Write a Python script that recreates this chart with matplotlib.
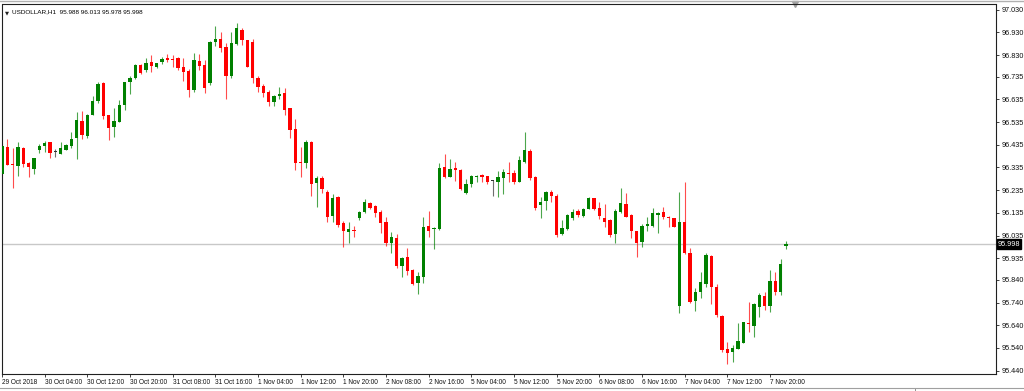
"""USDOLLAR H1 candlestick chart, MT4 look."""
import matplotlib
matplotlib.use("Agg")
import matplotlib.pyplot as plt
from matplotlib.lines import Line2D
from matplotlib.patches import Rectangle

symbol_title = "USDOLLAR,H1  95.988 96.013 95.978 95.998"
last_price = 95.998

opens = [
    96.305, 96.424, 96.350, 96.343, 96.421, 96.356, 96.327, 96.412, 96.428, 96.446,
    96.405, 96.396, 96.413, 96.428, 96.463, 96.540, 96.475, 96.566, 96.629, 96.709,
    96.564, 96.513, 96.537, 96.610, 96.711, 96.728, 96.786, 96.764, 96.800, 96.779,
    96.800, 96.817, 96.814, 96.816, 96.779, 96.761, 96.678, 96.804, 96.788, 96.708,
    96.886, 96.901, 96.866, 96.738, 96.880, 96.942, 96.896, 96.888, 96.731, 96.695,
    96.666, 96.625, 96.651, 96.662, 96.595, 96.503, 96.361, 96.356, 96.449, 96.265,
    96.287, 96.229, 96.121, 96.206, 96.089, 96.052, 96.058, 96.114, 96.140, 96.180,
    96.165, 96.137, 96.096, 96.004, 96.026, 95.903, 95.942, 95.884, 95.825, 95.854,
    96.077, 96.063, 96.063, 96.336, 96.295, 96.333, 96.324, 96.221, 96.261, 96.293,
    96.302, 96.296, 96.275, 96.273, 96.290, 96.312, 96.312, 96.273, 96.361, 96.408,
    96.295, 96.170, 96.189, 96.226, 96.209, 96.042, 96.063, 96.111, 96.143, 96.123,
    96.152, 96.199, 96.158, 96.114, 96.104, 96.042, 96.140, 96.174, 96.126, 96.055,
    96.005, 96.079, 96.077, 96.127, 96.138, 96.118, 96.111, 95.726, 96.096, 95.957,
    95.747, 95.788, 95.822, 95.945, 95.807, 95.682, 95.536, 95.521, 95.536, 95.564,
    95.652, 95.637, 95.722, 95.769, 95.726, 95.835, 95.788, 95.988,
]
highs = [
    96.441, 96.460, 96.419, 96.449, 96.424, 96.361, 96.377, 96.440, 96.452, 96.449,
    96.415, 96.446, 96.438, 96.490, 96.578, 96.584, 96.569, 96.650, 96.710, 96.712,
    96.568, 96.596, 96.631, 96.713, 96.739, 96.790, 96.790, 96.817, 96.829, 96.797,
    96.820, 96.836, 96.830, 96.822, 96.816, 96.767, 96.839, 96.836, 96.810, 96.892,
    96.958, 96.930, 96.883, 96.933, 96.971, 96.948, 96.898, 96.901, 96.736, 96.703,
    96.675, 96.652, 96.688, 96.684, 96.598, 96.547, 96.424, 96.456, 96.452, 96.298,
    96.298, 96.236, 96.218, 96.209, 96.099, 96.093, 96.079, 96.145, 96.195, 96.184,
    96.168, 96.148, 96.118, 96.052, 96.042, 95.942, 95.979, 95.886, 95.873, 96.115,
    96.143, 96.074, 96.356, 96.396, 96.372, 96.361, 96.327, 96.286, 96.302, 96.302,
    96.305, 96.299, 96.280, 96.320, 96.327, 96.361, 96.324, 96.386, 96.490, 96.415,
    96.297, 96.207, 96.231, 96.236, 96.218, 96.104, 96.128, 96.151, 96.152, 96.155,
    96.205, 96.202, 96.184, 96.174, 96.107, 96.151, 96.243, 96.221, 96.128, 96.057,
    96.086, 96.118, 96.155, 96.140, 96.162, 96.120, 96.113, 96.228, 96.270, 95.982,
    95.803, 95.876, 95.960, 95.950, 95.820, 95.685, 95.568, 95.553, 95.649, 95.656,
    95.744, 95.737, 95.784, 95.788, 95.884, 95.873, 95.932, 96.013,
]
lows = [
    96.300, 96.344, 96.246, 96.296, 96.339, 96.293, 96.305, 96.400, 96.402, 96.378,
    96.383, 96.393, 96.411, 96.419, 96.372, 96.459, 96.466, 96.564, 96.618, 96.550,
    96.458, 96.471, 96.534, 96.587, 96.657, 96.726, 96.748, 96.757, 96.757, 96.775,
    96.791, 96.801, 96.779, 96.764, 96.717, 96.644, 96.669, 96.764, 96.665, 96.698,
    96.871, 96.845, 96.637, 96.731, 96.874, 96.874, 96.776, 96.707, 96.667, 96.644,
    96.607, 96.606, 96.637, 96.566, 96.466, 96.324, 96.295, 96.331, 96.209, 96.162,
    96.221, 96.096, 96.096, 96.071, 95.983, 96.004, 96.030, 96.104, 96.136, 96.151,
    96.118, 96.048, 95.989, 95.957, 95.891, 95.854, 95.862, 95.817, 95.778, 95.825,
    96.027, 95.975, 96.060, 96.290, 96.292, 96.277, 96.236, 96.218, 96.250, 96.270,
    96.273, 96.262, 96.209, 96.206, 96.218, 96.273, 96.261, 96.270, 96.356, 96.280,
    96.148, 96.111, 96.148, 96.184, 96.027, 96.036, 96.060, 96.104, 96.118, 96.118,
    96.150, 96.148, 96.107, 96.074, 96.027, 96.004, 96.133, 96.115, 96.023, 95.939,
    95.986, 96.055, 96.071, 96.048, 96.108, 96.071, 96.071, 95.693, 95.954, 95.740,
    95.704, 95.759, 95.807, 95.734, 95.675, 95.521, 95.468, 95.480, 95.534, 95.561,
    95.609, 95.590, 95.678, 95.707, 95.697, 95.773, 95.773, 95.978,
]
closes = [
    96.431, 96.346, 96.346, 96.424, 96.350, 96.337, 96.375, 96.430, 96.443, 96.397,
    96.405, 96.419, 96.434, 96.462, 96.543, 96.477, 96.566, 96.628, 96.703, 96.562,
    96.507, 96.540, 96.610, 96.711, 96.731, 96.788, 96.753, 96.797, 96.783, 96.794,
    96.814, 96.808, 96.808, 96.772, 96.757, 96.678, 96.807, 96.783, 96.684, 96.886,
    96.901, 96.860, 96.736, 96.885, 96.949, 96.895, 96.778, 96.731, 96.688, 96.665,
    96.622, 96.651, 96.659, 96.588, 96.500, 96.356, 96.353, 96.449, 96.261, 96.290,
    96.240, 96.118, 96.199, 96.082, 96.057, 96.064, 96.054, 96.140, 96.184, 96.155,
    96.133, 96.092, 96.001, 96.030, 95.903, 95.935, 95.879, 95.822, 95.857, 96.074,
    96.057, 96.070, 96.334, 96.295, 96.327, 96.324, 96.239, 96.261, 96.298, 96.298,
    96.295, 96.270, 96.275, 96.295, 96.314, 96.306, 96.273, 96.368, 96.411, 96.287,
    96.155, 96.184, 96.226, 96.211, 96.038, 96.070, 96.126, 96.140, 96.126, 96.152,
    96.202, 96.152, 96.123, 96.096, 96.038, 96.143, 96.177, 96.118, 96.057, 96.004,
    96.079, 96.085, 96.133, 96.133, 96.115, 96.113, 96.074, 96.093, 95.957, 95.744,
    95.788, 95.829, 95.950, 95.807, 95.685, 95.531, 95.519, 95.542, 95.571, 95.653,
    95.644, 95.732, 95.773, 95.726, 95.835, 95.788, 95.910, 95.998,
]

time_labels = [
    "29 Oct 2018", "30 Oct 04:00", "30 Oct 12:00", "30 Oct 20:00", "31 Oct 08:00",
    "31 Oct 16:00", "1 Nov 04:00", "1 Nov 12:00", "1 Nov 20:00", "2 Nov 08:00",
    "2 Nov 16:00", "5 Nov 04:00", "5 Nov 12:00", "5 Nov 20:00", "6 Nov 08:00",
    "6 Nov 16:00", "7 Nov 04:00", "7 Nov 12:00", "7 Nov 20:00",
]
bars_per_label = 8

price_ticks = [
    97.030, 96.930, 96.830, 96.735, 96.635, 96.535, 96.435, 96.335, 96.235,
    96.135, 96.035, 95.935, 95.840, 95.740, 95.640, 95.540, 95.440,
]

UP = "#008000"
DOWN = "#ff0000"
FLAT = "#303030"
FONT = "Liberation Sans"

W, H = 1024, 391
fig = plt.figure(figsize=(W / 100, H / 100), dpi=100)
fig.patch.set_facecolor("white")

left_px, right_px, top_px, bottom_px = 1.5, 995.5, 4.5, 373.5
ax = fig.add_axes([left_px / W, 1 - bottom_px / H,
                   (right_px - left_px) / W, (bottom_px - top_px) / H])

positions = list(range(len(opens)))
colors = []
for o, c in zip(opens, closes):
    colors.append(UP if c > o else DOWN if c < o else FLAT)

# wicks first, bodies drawn on top
ax.vlines(positions, lows, highs, colors=colors, linewidth=0.8, alpha=0.7, zorder=2)
body_bottom = [min(o, c) for o, c in zip(opens, closes)]
body_height = [max(abs(c - o), 0.0035) for o, c in zip(opens, closes)]
ax.bar(positions, body_height, bottom=body_bottom, width=0.62, color=colors,
       linewidth=0, zorder=3)

# last price line
ax.axhline(last_price, color="#c8c8c8", linewidth=1.0, zorder=1)

px_per_bar = 5.333
ax.set_xlim((left_px - 2.0) / px_per_bar, (right_px - 2.0) / px_per_bar)
price_per_px = 0.004404
ax.set_ylim(last_price - (bottom_px - 244) * price_per_px,
            last_price + (244 - top_px) * price_per_px)

ax.set_xticks([i * bars_per_label for i in range(len(time_labels))])
ax.set_xticklabels(time_labels, ha="left", fontsize=4.7, family=FONT, color="#101010")
ax.tick_params(axis="x", length=2.5, width=0.6, pad=1.5, color="#202020")

ax.yaxis.tick_right()
ax.set_yticks(price_ticks)
ax.set_yticklabels([f"{p:.3f}" for p in price_ticks], fontsize=5.2, family=FONT,
                   color="#101010")
ax.tick_params(axis="y", length=2.5, width=0.6, pad=2, color="#202020")

for side in ("left", "right", "top", "bottom"):
    ax.spines[side].set_color("#202020")
    ax.spines[side].set_linewidth(0.8)

# current price tag on the price scale
ax.text(1.0022, last_price, f"{last_price:.3f}", transform=ax.get_yaxis_transform(),
        ha="left", va="center", fontsize=5.2, family=FONT, color="white",
        bbox=dict(boxstyle="square,pad=0.15", facecolor="black", edgecolor="black"),
        zorder=5, clip_on=False)

# header line
ax.text(0.004, 0.985, "\u25bc", transform=ax.transAxes, ha="left", va="top",
        fontsize=3.8, family="DejaVu Sans", color="#202020")
ax.text(0.011, 0.988, symbol_title, transform=ax.transAxes, ha="left", va="top",
        fontsize=4.6, family=FONT, color="black")

# chart shift marker on the top border
ax.plot([(795 - 2.0) / px_per_bar], [1.0], marker="v", markersize=4,
        color="#a0a0a0", transform=ax.get_xaxis_transform(), clip_on=False)

# window frame bits
fig.add_artist(Line2D([0, 1], [1 - 0.5 / H, 1 - 0.5 / H], color="#b0b0b0", linewidth=1))
fig.add_artist(Line2D([0, 1], [1 - 387.5 / H, 1 - 387.5 / H], color="#a0a0a0", linewidth=0.8))
fig.add_artist(Rectangle((915 / W, 0), 109 / W, 3.5 / H, facecolor="white",
                         edgecolor="#808080", linewidth=0.6))

fig.savefig("out.png", dpi=100, facecolor="white")
